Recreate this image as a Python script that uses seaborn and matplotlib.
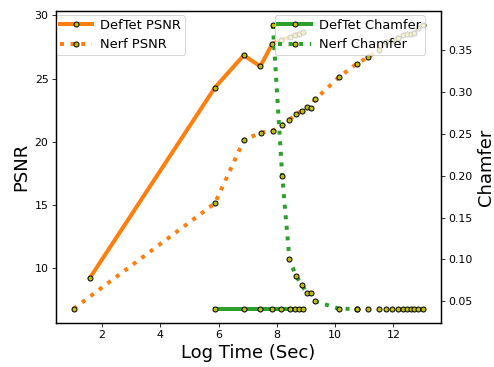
import matplotlib
matplotlib.use('Agg')
import matplotlib.pyplot as plt
import seaborn as sns

# DefTet: log tiempo (s), PSNR y Chamfer
deftet_time = [1.59, 5.87, 6.86, 7.43, 7.84, 8.15, 8.45, 8.62, 8.77, 8.90]
deftet_psnr = [9.23, 24.28, 26.84, 25.97, 27.75, 28.08, 28.28, 28.47, 28.55, 28.68]
deftet_ch_time = [5.87, 6.86, 7.43, 7.84, 8.15, 8.45, 8.62, 8.77, 8.90]
deftet_chamfer = [0.041, 0.041, 0.041, 0.041, 0.041, 0.041, 0.041, 0.041, 0.041]

# Nerf
nerf_time = [1.02, 5.87, 6.87, 7.44, 7.86, 8.18, 8.43, 8.66, 8.85, 9.02, 9.16, 9.31,
             10.14, 10.74, 11.14, 11.49, 11.74, 11.94, 12.14, 12.31, 12.46, 12.60,
             12.72, 12.85, 13.03]
nerf_psnr = [6.75, 15.11, 20.14, 20.70, 20.88, 21.33, 21.75, 22.17, 22.41, 22.73, 22.65, 23.34,
             25.13, 26.18, 26.70, 27.30, 27.90, 28.05, 28.25, 28.42, 28.50, 28.55,
             28.60, 29.00, 29.25]
nerf_ch_time = [7.86, 8.18, 8.43, 8.66, 8.85, 9.02, 9.16, 9.31, 10.14, 10.74, 11.14, 11.49,
                11.74, 11.94, 12.14, 12.31, 12.46, 12.60, 12.72, 12.85, 13.03]
nerf_chamfer = [0.380, 0.200, 0.100, 0.080, 0.070, 0.060, 0.060, 0.050, 0.041, 0.041, 0.041, 0.041,
                0.041, 0.041, 0.041, 0.041, 0.041, 0.041, 0.041, 0.041, 0.041]
nerf_ch_line_n = 10  # puntos de Nerf Chamfer unidos por la linea punteada

sns.set_style('ticks')
plt.rcParams['axes.edgecolor'] = 'black'
plt.rcParams['axes.linewidth'] = 1.25
plt.rcParams['text.color'] = 'black'
plt.rcParams['axes.labelcolor'] = 'black'
plt.rcParams['lines.solid_capstyle'] = 'projecting'
plt.rcParams['font.family'] = ['DejaVu Sans']

mk = dict(marker='o', markersize=5, markerfacecolor='y', markeredgecolor='k', markeredgewidth=1)
leg = dict(borderaxespad=0, fontsize=13, handlelength=2.5, handletextpad=0.6, borderpad=0.3,
           numpoints=1)

fig, ax = plt.subplots(figsize=(494 / 72, 367 / 72), dpi=72)
fig.subplots_adjust(left=0.1134, right=0.8927, bottom=0.1199, top=0.9708)

sns.lineplot(x=deftet_time, y=deftet_psnr, ax=ax, color='tab:orange', linewidth=4,
             label='DefTet PSNR', sort=False, **mk)
sns.lineplot(x=nerf_time, y=nerf_psnr, ax=ax, color='tab:orange', linewidth=4, linestyle=':',
             label='Nerf PSNR', sort=False, **mk)
ax.set_xlabel('Log Time (Sec)', fontsize=18)
ax.set_ylabel('PSNR', fontsize=18)
ax.tick_params(labelsize=11, length=4, colors='black')
ax.legend(loc='upper left', bbox_to_anchor=(0, 0.986), **leg)

ax2 = ax.twinx()
sns.lineplot(x=deftet_ch_time, y=deftet_chamfer, ax=ax2, color='tab:green', linewidth=4,
             label='DefTet Chamfer', sort=False, **mk)
sns.lineplot(x=nerf_ch_time[:nerf_ch_line_n], y=nerf_chamfer[:nerf_ch_line_n], ax=ax2,
             color='tab:green', linewidth=4, linestyle=':', label='Nerf Chamfer', sort=False, **mk)
sns.lineplot(x=nerf_ch_time[nerf_ch_line_n - 1:], y=nerf_chamfer[nerf_ch_line_n - 1:], ax=ax2,
             color='tab:green', linestyle='none', sort=False, legend=False, **mk)
ax2.set_ylabel('Chamfer', fontsize=18)
ax2.tick_params(labelsize=11, length=4, colors='black')
ax2.legend(loc='upper right', bbox_to_anchor=(0.958, 0.986), **leg)
sns.despine(ax=ax, top=False, right=False)
sns.despine(ax=ax2, top=False, right=False)

fig.savefig('out.png', dpi=72)
